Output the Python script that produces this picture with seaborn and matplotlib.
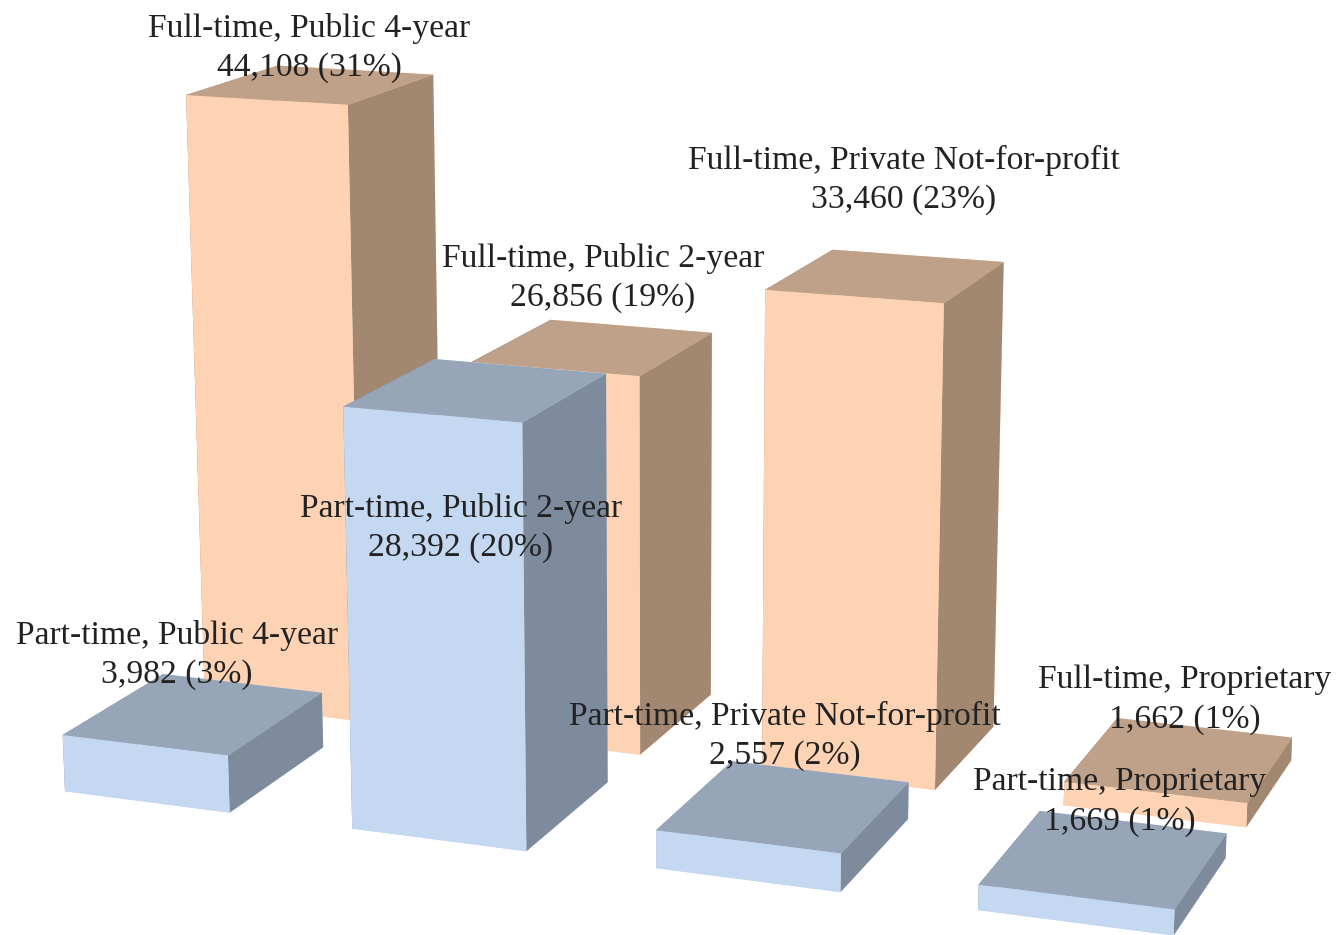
import numpy as np
import seaborn as sns
import matplotlib.pyplot as plt

# enrollment counts per sector
sectors = ["Public 4-year", "Public 2-year", "Private Not-for-profit", "Proprietary"]
full_time = [44108, 26856, 33460, 1662]
part_time = [3982, 28392, 2557, 1669]
full_pct = [31, 19, 23, 1]
part_pct = [3, 20, 2, 1]

# label centres in pixels of the 1337x935 picture
full_label_xy = [(309, 48), (603, 278), (904, 180), (1185, 700)]
part_label_xy = [(177, 655), (461, 528), (785, 736), (1120, 802)]

sns.set_theme(style="white")
plt.rcParams["font.family"] = ["Liberation Serif", "DejaVu Serif"]

# faces: front, top, side
peach = sns.color_palette(["#FDD3B3", "#BFA088", "#A38871"])
blue = sns.color_palette(["#C5D8F1", "#97A5B8", "#7D8B9D"])

fig = plt.figure(figsize=(13.37, 9.35), dpi=100)
ax = fig.add_axes([-15 / 1337, -14 / 935, 1, 1], projection="3d")

bar_w = 0.58
bar_d = 0.70


def draw_bar(i, row, value, pal):
    front, top, side = pal
    # bar3d face order: bottom, top, front, back, left, right
    col = ax.bar3d(i - bar_w / 2, row - bar_d / 2, 0, bar_w, bar_d, value,
                   color=[front, top, front, front, side, side],
                   shade=False, linewidth=0)
    col.set_clip_on(False)


# back row first so the front row paints over it
ax.computed_zorder = False
for i, v in enumerate(full_time):
    draw_bar(i, 1, v, peach)
for i, v in enumerate(part_time):
    draw_bar(i, 0, v, blue)

# one world unit here is one pixel at the centre of the box
xlim = (-0.9, 4.1)
ylim = (-1.457, 1.543)
zlim = (0, 48077)
lengths = np.array([(xlim[1] - xlim[0]) * 331, (ylim[1] - ylim[0]) * 322, (zlim[1] - zlim[0]) * 0.0156])
ax.set_xlim(xlim)
ax.set_ylim(ylim)
ax.set_zlim(zlim)
ax.set_box_aspect(lengths, zoom=np.linalg.norm(lengths) / (505.4 * 1.9057))
ax.set_proj_type("persp", focal_length=0.772)
ax.view_init(elev=14.5, azim=-69.6)
ax.set_axis_off()


def add_label(xy, status, sector, value, pct):
    fig.text(xy[0] / 1337, 1 - xy[1] / 935,
             f"{status}, {sector}\n{value:,} ({pct}%)",
             ha="center", va="center", fontsize=24.2, color="#222222", linespacing=1.37)


for i, s in enumerate(sectors):
    add_label(full_label_xy[i], "Full-time", s, full_time[i], full_pct[i])
    add_label(part_label_xy[i], "Part-time", s, part_time[i], part_pct[i])

fig.savefig("out.png", dpi=100)
